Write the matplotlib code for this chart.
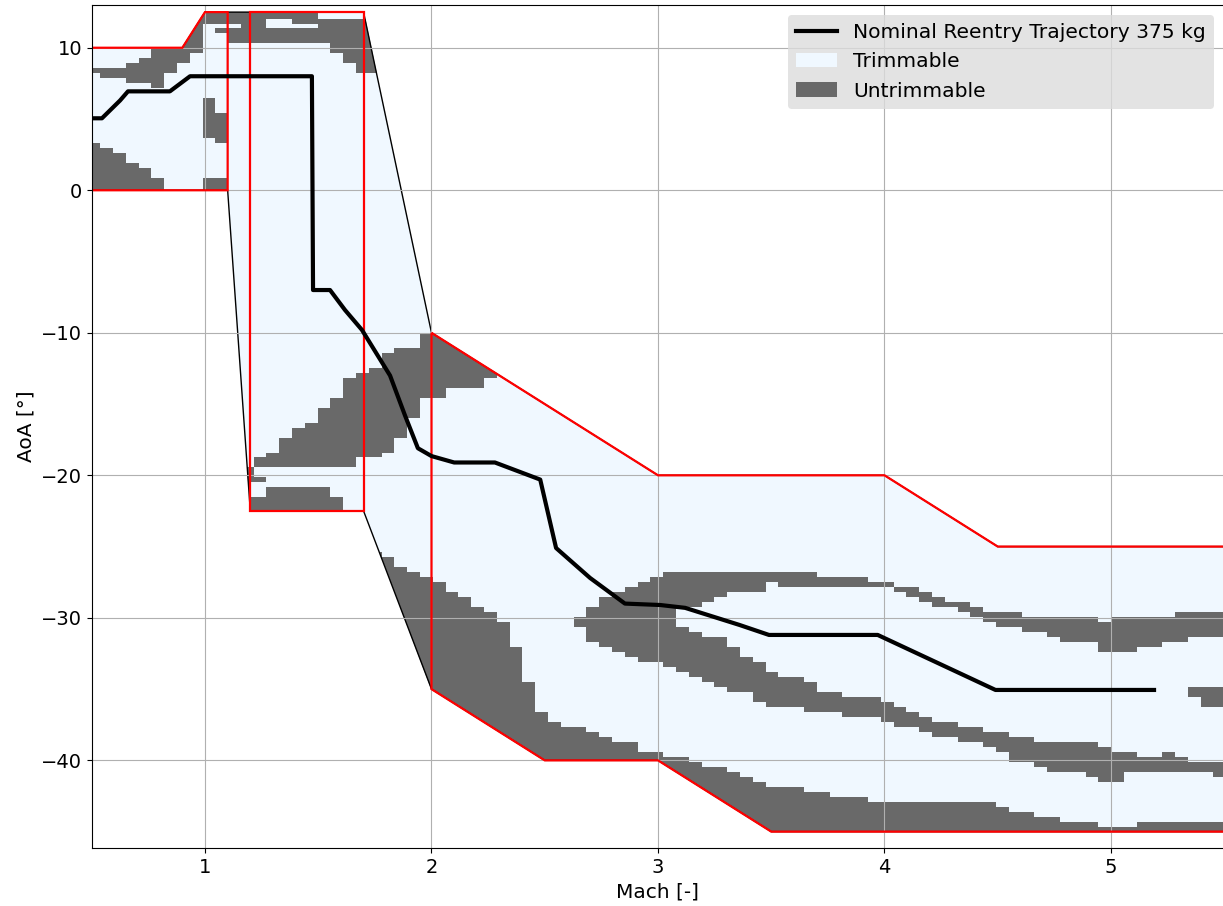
import numpy as np
import matplotlib
matplotlib.use("Agg")
import matplotlib.pyplot as plt
from matplotlib.path import Path
from matplotlib.patches import Polygon, Patch
from matplotlib.lines import Line2D
from matplotlib.colors import ListedColormap

# nominal trajectory (Mach, AoA)
traj_mach = [0.5, 0.545, 0.625, 0.66, 0.845, 0.934, 1.472, 1.477, 1.552, 1.618, 1.693,
             1.817, 1.883, 1.94, 2.0, 2.10, 2.28, 2.48, 2.55, 2.70, 2.854, 3.01, 3.12,
             3.36, 3.49, 3.97, 4.49, 5.19]
traj_aoa = [5.05, 5.05, 6.3, 6.94, 6.94, 8.0, 8.0, -7.0, -7.0, -8.4, -9.8,
            -13.0, -15.8, -18.1, -18.65, -19.1, -19.1, -20.3, -25.1, -27.2, -29.0, -29.1, -29.3,
            -30.5, -31.2, -31.2, -35.06, -35.06]

# aerodatabase domains
dom_a = [(0.5, 0), (0.5, 10), (0.9, 10), (1.0, 12.5), (1.1, 12.5), (1.1, 0)]
dom_b = [(1.2, -22.5), (1.2, 12.5), (1.7, 12.5), (1.7, -22.5)]
dom_c = [(2.0, -10), (3.0, -20), (4.0, -20), (4.5, -25), (5.5, -25), (5.5, -45),
         (3.5, -45), (3.0, -40), (2.5, -40), (2.0, -35)]
envelope = [(0.5, 0), (0.5, 10), (0.9, 10), (1.0, 12.5), (1.7, 12.5), (2.0, -10),
            (3.0, -20), (4.0, -20), (4.5, -25), (5.5, -25), (5.5, -45), (3.5, -45),
            (3.0, -40), (2.5, -40), (2.0, -35), (1.7, -22.5), (1.2, -22.5), (1.1, 0)]

# untrimmable bands: Mach breakpoints, lower AoA, upper AoA per segment
top_mach = [0.42, 0.537, 0.649, 0.706, 0.762, 0.819, 0.875, 0.932, 0.988, 1.102,
            1.497, 1.554, 1.610, 1.667, 1.78]
top_lo = [8.2, 7.85, 7.5, 7.5, 7.0, 8.2, 8.9, 9.6, 11.7, 10.3, 10.3, 9.6, 8.9, 8.2]
top_hi = [8.55, 8.55, 8.9, 9.25, 14, 14, 14, 14, 14, 14, 12.0, 12.0, 12.0, 12.0]

bar_mach = [1.045, 1.158]
bar_lo = [10.95]
bar_hi = [11.3]

blob_mach = [0.988, 1.045, 1.102]
blob_lo = [3.6, 3.3]
blob_hi = [6.35, 5.3]

corner_mach = [0.42, 0.537, 0.592, 0.649, 0.706, 0.762, 0.819]
corner_lo = [-1, -1, -1, -1, -1, -1]
corner_hi = [3.3, 2.95, 2.6, 1.9, 1.55, 0.85]

foot_mach = [0.988, 1.102]
foot_lo = [-1]
foot_hi = [0.85]

diag_mach = [1.159, 1.215, 1.272, 1.328, 1.385, 1.441, 1.498, 1.554, 1.611, 1.667,
             1.724, 1.780, 1.837, 1.893, 1.950, 2.006, 2.063, 2.176, 2.232, 2.289, 2.345]
diag_lo = [-20.4, -19.6, -19.6, -19.6, -19.6, -19.6, -19.6, -19.6, -19.3, -18.9,
           -18.6, -18.3, -17.5, -16.1, -14.7, -14.4, -14.0, -13.7, -13.0, -12.5]
diag_hi = [-19.6, -18.6, -18.3, -17.5, -16.8, -16.2, -15.4, -14.4, -13.3, -12.7,
           -12.3, -11.5, -11.2, -10.9, -10.1, -9.0, -9.0, -9.0, -9.0, -9.0]

strip_mach = [1.215, 1.272]
strip_lo = [-20.4]
strip_hi = [-20.05]

floor_mach = [1.159, 1.272, 1.554, 1.611]
floor_lo = [-23, -23, -23]
floor_hi = [-21.45, -21.0, -21.4]

low_mach = [1.70, 1.773, 1.831, 1.89, 1.949, 2.0, 2.06, 2.118, 2.177, 2.229, 2.288, 2.347,
            2.405, 2.457, 2.516, 2.575, 2.685, 2.744, 2.803, 2.913, 3.025, 3.137, 3.193,
            3.305, 3.37, 3.426, 3.482, 3.641, 3.762, 3.93, 4.499, 4.555, 4.667, 4.779,
            4.947, 5.115, 5.6]
low_hi = [-25.55, -25.9, -26.3, -26.8, -27.1, -27.35, -28.05, -28.5, -29.1, -29.45, -30.15,
          -32.0, -34.5, -36.6, -37.3, -37.6, -38.1, -38.45, -38.8, -39.4, -39.75, -40.1,
          -40.45, -40.8, -41.15, -41.5, -41.85, -42.2, -42.55, -42.9, -43.25, -43.6,
          -43.95, -44.3, -44.65, -44.3]
low_lo = [-47] * len(low_hi)

diamond_mach = [2.629, 2.685, 2.741, 2.798, 2.854, 2.91, 2.968, 3.026, 3.083]
diamond_lo = [-30.5, -31.56, -31.98, -32.3, -32.68, -32.96, -32.96, -33.38]
diamond_hi = [-30.04, -29.22, -28.52, -28.17, -27.82, -27.42, -27.12, -26.77]

upper_mach = [3.083, 3.193, 3.252, 3.305, 3.482, 3.538, 3.706, 3.93, 3.986, 4.042, 4.098,
              4.157, 4.216, 4.267, 4.326, 4.385, 4.436, 4.495, 4.613, 4.723, 4.76, 4.943,
              5.003, 5.12, 5.231, 5.29, 5.349, 5.6]
upper_hi = [-26.77, -26.77, -26.77, -26.77, -26.77, -26.77, -27.07, -27.35, -27.35, -27.77,
            -27.9, -28.17, -28.52, -28.87, -28.87, -29.22, -29.57, -29.57, -29.92, -29.92,
            -29.87, -30.15, -29.87, -29.87, -29.87, -29.52, -29.52]
upper_lo = [-29.1, -28.75, -28.4, -28.05, -27.4, -27.75, -27.75, -27.75, -28.0, -28.17,
            -28.47, -28.87, -29.1, -29.22, -29.5, -29.87, -30.22, -30.57, -30.9, -31.28,
            -31.56, -32.26, -32.26, -31.98, -31.63, -31.63, -31.28]

mid_mach = [3.083, 3.141, 3.193, 3.252, 3.305, 3.361, 3.417, 3.482, 3.538, 3.641, 3.706,
            3.818, 3.986, 4.042, 4.098, 4.154, 4.21, 4.322, 4.434, 4.499, 4.555, 4.667,
            4.723, 4.779, 4.891, 4.943, 5.003, 5.062, 5.12, 5.231, 5.29, 5.349, 5.46, 5.6]
mid_hi = [-30.5, -31.0, -31.3, -31.3, -32.0, -32.68, -33.08, -33.78, -34.13, -34.48,
          -35.18, -35.53, -35.88, -36.23, -36.58, -36.94, -37.3, -37.64, -37.99, -37.99,
          -38.34, -38.69, -38.69, -38.69, -38.69, -39.04, -39.39, -39.39, -39.74, -39.39,
          -39.74, -40.09, -40.09]
mid_lo = [-33.78, -34.0, -34.41, -34.78, -35.18, -35.18, -35.76, -36.11, -36.11, -36.5,
          -36.5, -36.94, -37.3, -37.64, -37.64, -37.99, -38.34, -38.76, -39.04, -39.39,
          -40.09, -40.44, -40.79, -40.79, -41.14, -41.49, -41.49, -40.79, -40.79, -40.79,
          -40.79, -40.79, -41.14]

spot_mach = [5.349, 5.40, 5.6]
spot_lo = [-35.53, -36.19]
spot_hi = [-34.83, -34.83]

bands = [(top_mach, top_lo, top_hi), (bar_mach, bar_lo, bar_hi),
         (blob_mach, blob_lo, blob_hi), (corner_mach, corner_lo, corner_hi),
         (foot_mach, foot_lo, foot_hi), (diag_mach, diag_lo, diag_hi),
         (strip_mach, strip_lo, strip_hi), (floor_mach, floor_lo, floor_hi),
         (low_mach, low_lo, low_hi), (diamond_mach, diamond_lo, diamond_hi),
         (upper_mach, upper_lo, upper_hi), (mid_mach, mid_lo, mid_hi),
         (spot_mach, spot_lo, spot_hi)]

# trimmable pockets inside the top band
holes = [[(1.271, 11.3), (1.384, 11.3), (1.384, 12.0), (1.271, 12.0)],
         [(1.384, 11.3), (1.497, 11.3), (1.497, 11.7), (1.384, 11.7)],
         [(1.102, 11.3), (1.158, 11.3), (1.158, 11.7), (1.102, 11.7)]]


def step_outline(xs, lo, hi):
    top, bot = [], []
    for i in range(len(lo)):
        top += [(xs[i], hi[i]), (xs[i + 1], hi[i])]
        bot += [(xs[i], lo[i]), (xs[i + 1], lo[i])]
    return top + bot[::-1]


# evaluation grid of the trim analysis
mach_edges = 0.537 + 0.0565 * np.arange(-2, 90)
aoa_edges = -45 + 0.35 * np.arange(-5, 170)
mc = 0.5 * (mach_edges[:-1] + mach_edges[1:])
ac = 0.5 * (aoa_edges[:-1] + aoa_edges[1:])
MM, AA = np.meshgrid(mc, ac)
pts = np.column_stack([MM.ravel(), AA.ravel()])

untrim = np.zeros(len(pts), dtype=bool)
for xs, lo, hi in bands:
    untrim |= Path(step_outline(xs, lo, hi)).contains_points(pts)
for h in holes:
    untrim &= ~Path(h).contains_points(pts)
untrim = untrim.reshape(MM.shape)

fig = plt.figure(figsize=(12.23, 9.06), dpi=100)
ax = fig.add_axes([0.07502, 0.0640, 0.92600, 0.9305])

env = Polygon(envelope, closed=True, facecolor='aliceblue', edgecolor='none', zorder=0.5)
ax.add_patch(env)

Z = np.ma.masked_where(~untrim, np.ones(untrim.shape))
mesh = ax.pcolormesh(mach_edges, aoa_edges, Z, cmap=ListedColormap(['dimgray']),
                     shading='flat', antialiased=False, zorder=1)
mesh.set_clip_path(env)

ax.add_patch(Polygon(envelope, closed=True, fill=False, edgecolor='black', lw=1, zorder=1.2))
for dom in (dom_a, dom_b, dom_c):
    ax.add_patch(Polygon(dom, closed=True, fill=False, edgecolor='red', lw=1.6, zorder=2))

ax.plot(traj_mach, traj_aoa, color='black', lw=3, zorder=3)

ax.set_xlim(0.5, 5.5)
ax.set_ylim(-46.15, 13.0)
ax.set_xticks([1, 2, 3, 4, 5])
ax.set_yticks([-40, -30, -20, -10, 0, 10])
ax.grid(True)
ax.tick_params(labelsize=14)
ax.set_xlabel('Mach [-]', fontsize=14.5)
ax.set_ylabel('AoA [°]', fontsize=14.5)

handles = [Line2D([], [], color='black', lw=3),
           Patch(facecolor='aliceblue'),
           Patch(facecolor='dimgray')]
labels = ['Nominal Reentry Trajectory 375 kg', 'Trimmable', 'Untrimmable']
leg = ax.legend(handles, labels, loc='upper right', fontsize=14.6, facecolor='gainsboro',
                edgecolor='none', framealpha=0.8)

fig.savefig('out.png', dpi=100)
